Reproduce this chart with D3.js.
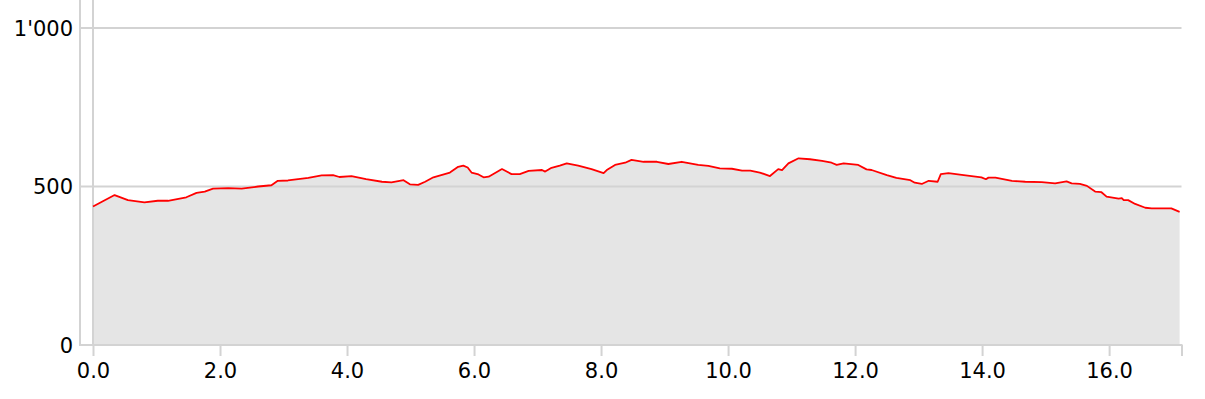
<!DOCTYPE html>
<html>
<head>
<meta charset="utf-8">
<script src="https://cdn.jsdelivr.net/npm/d3@7"></script>
<style>
  body { margin: 0; background: #fff; }
  text { font-family: "DejaVu Sans", sans-serif; }
</style>
</head>
<body>
<div id="profile"></div>
<script>
// distance along the route (km) and elevation (m)
var dist = [0, 0.34, 0.55, 0.81, 1.02, 1.18, 1.47, 1.63, 1.76, 1.89, 2.13, 2.34, 2.6, 2.81, 2.91, 3.07,
  3.39, 3.6, 3.78, 3.88, 4.07, 4.3, 4.55, 4.7, 4.89, 4.99, 5.12, 5.23, 5.36, 5.62, 5.75, 5.83, 5.9, 5.96,
  6.07, 6.15, 6.23, 6.44, 6.59, 6.72, 6.86, 7.07, 7.12, 7.22, 7.35, 7.46, 7.64, 7.85, 8.04, 8.09, 8.22,
  8.38, 8.48, 8.67, 8.88, 9.06, 9.27, 9.53, 9.69, 9.87, 10.06, 10.22, 10.35, 10.5, 10.66, 10.79, 10.85,
  10.95, 11.11, 11.29, 11.48, 11.63, 11.71, 11.82, 12.05, 12.18, 12.26, 12.5, 12.65, 12.87, 12.94, 13.05,
  13.16, 13.3, 13.35, 13.47, 13.68, 13.99, 14.06, 14.1, 14.21, 14.47, 14.68, 14.94, 15.15, 15.33, 15.41,
  15.54, 15.65, 15.78, 15.88, 15.96, 16.15, 16.2, 16.23, 16.3, 16.41, 16.57, 16.67, 16.98, 17.11];
var elev = [437, 473, 457, 450, 455, 455, 466, 480, 484, 493, 495, 493, 500, 504, 518, 519,
  527, 535, 536, 530, 533, 523, 515, 513, 520, 507, 505, 515, 529, 544, 562, 566, 560, 544,
  538, 529, 531, 555, 539, 539, 549, 552, 547, 559, 566, 573, 566, 555, 542, 552, 568,
  575, 584, 578, 578, 571, 578, 568, 565, 557, 556, 550, 550, 544, 533, 555, 552,
  573, 589, 586, 581, 575, 568, 573, 568, 554, 552, 536, 527, 520, 512, 508,
  518, 515, 539, 542, 537, 529, 523, 528, 528, 518, 515, 514, 510, 516, 510,
  508, 502, 484, 482, 468, 462, 463, 457, 457, 445, 433, 431, 431, 420];
var xTicks = [0, 2, 4, 6, 8, 10, 12, 14, 16];
var yTicks = [0, 500, 1000];

var width = 1205,
    height = 399;

var x0 = 93, x1 = 1181.5,   // pixel span of 0 .. xMax
    axisX = 80,             // y axis line
    y0 = 345;               // baseline
var xMax = 17.14;

var svg = d3.select("#profile")
  .append("svg")
    .attr("width", width)
    .attr("height", height);

var x = d3.scaleLinear().domain([0, xMax]).range([x0, x1]);
var y = d3.scaleLinear().domain([0, 1000]).range([y0, 28]);

var locale = d3.formatLocale({decimal: ".", thousands: "'", grouping: [3], currency: ["", ""]});
var fmtY = locale.format(",d");

var data = dist.map(function(d, i) { return {d: d, e: elev[i]}; });

var grid = "#d3d3d3";

// area under the profile
svg.append("path")
  .datum(data)
  .attr("fill", "#e5e5e5")
  .attr("d", d3.area()
    .x(function(d) { return x(d.d); })
    .y0(y(0))
    .y1(function(d) { return y(d.e); }));

// horizontal grid lines
svg.selectAll(".hgrid")
  .data(yTicks.filter(function(t) { return t > 0; }))
  .enter()
  .append("line")
    .attr("x1", axisX).attr("x2", x(xMax))
    .attr("y1", function(d) { return y(d); })
    .attr("y2", function(d) { return y(d); })
    .attr("stroke", grid)
    .attr("stroke-width", 2);

// zero line and y axis line
svg.append("line")
  .attr("x1", x(0)).attr("x2", x(0))
  .attr("y1", 0).attr("y2", y0)
  .attr("stroke", grid).attr("stroke-width", 2);
svg.append("line")
  .attr("x1", axisX).attr("x2", axisX)
  .attr("y1", 0).attr("y2", y0 + 1)
  .attr("stroke", grid).attr("stroke-width", 2);

// elevation line
svg.append("path")
  .datum(data)
  .attr("fill", "none")
  .attr("stroke", "#ff0000")
  .attr("stroke-width", 1.8)
  .attr("stroke-linejoin", "round")
  .attr("d", d3.line()
    .x(function(d) { return x(d.d); })
    .y(function(d) { return y(d.e); }));

// x axis
var xAxis = svg.append("g")
  .attr("transform", "translate(0," + y0 + ")")
  .call(d3.axisBottom(x)
    .tickValues(xTicks.concat([xMax]))
    .tickFormat(function(d) { return d === xMax ? "" : d3.format(".1f")(d); })
    .tickSize(11)
    .tickPadding(7.5)
    .tickSizeOuter(0));
xAxis.select(".domain").remove();
xAxis.selectAll(".tick line").attr("stroke", grid).attr("stroke-width", 2);
xAxis.selectAll(".tick text")
  .attr("fill", "#000")
  .style("font-size", "21px")
  .style("font-family", "DejaVu Sans");
xAxis.append("line")
  .attr("x1", axisX).attr("x2", x(xMax) + 1)
  .attr("y1", 0).attr("y2", 0)
  .attr("stroke", grid).attr("stroke-width", 2);

// y labels
svg.selectAll(".ylab")
  .data(yTicks)
  .enter()
  .append("text")
    .attr("x", 73)
    .attr("y", function(d) { return y(d); })
    .attr("dy", "0.36em")
    .attr("text-anchor", "end")
    .style("font-size", "21px")
    .text(function(d) { return fmtY(d); });
</script>
</body>
</html>
